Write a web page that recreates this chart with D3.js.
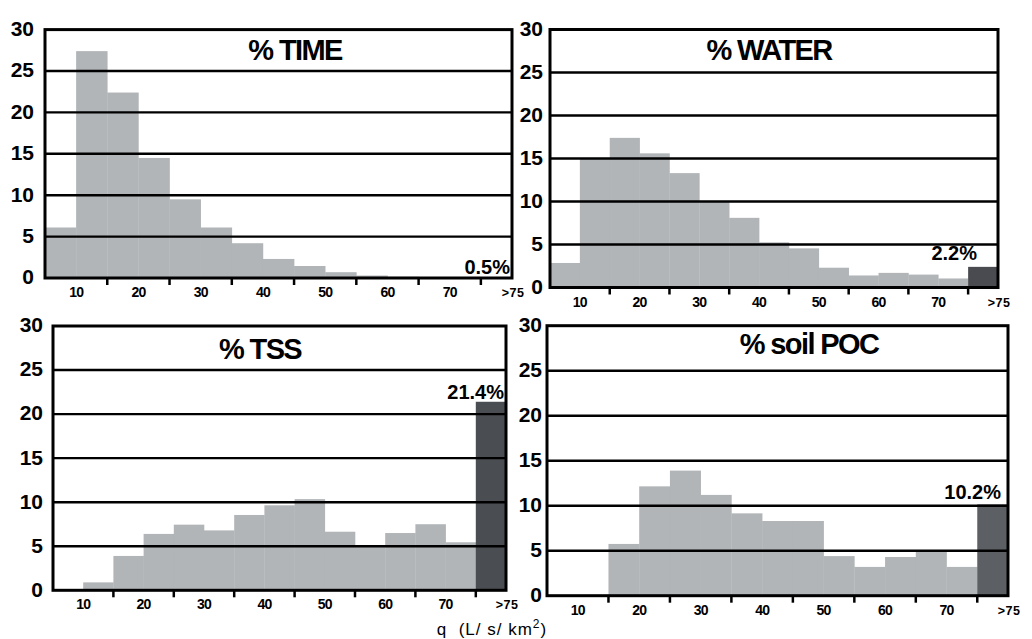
<!DOCTYPE html>
<html>
<head>
<meta charset="utf-8">
<script src="https://cdn.jsdelivr.net/npm/d3@7"></script>
<style>
  body { margin: 0; background: #fff; }
  svg { display: block; }
  text { font-family: "Liberation Sans", Arial, sans-serif; }
</style>
</head>
<body>
<svg id="chart" width="1032" height="639"></svg>
<script>
// ---------- data ----------
const binStarts = [5, 10, 15, 20, 25, 30, 35, 40, 45, 50, 55, 60, 65, 70, 75];
const xTickLabels = ["10", "20", "30", "40", "50", "60", "70", ">75"];
const xTickLabelPos = [10, 20, 30, 40, 50, 60, 70, 80];
const xTickMarks = [15, 25, 35, 45, 55, 65, 75];
const yTicks = [0, 5, 10, 15, 20, 25, 30];

const timeVals  = [6.1, 27.4, 22.4, 14.5, 9.5, 6.1, 4.2, 2.3, 1.45, 0.7, 0.3, 0.15, 0.1, 0.05, 0.0];
const waterVals = [2.85, 15.0, 17.4, 15.6, 13.3, 10.0, 8.1, 5.25, 4.55, 2.3, 1.4, 1.7, 1.5, 1.05, 2.4];
const tssVals   = [0, 0.9, 3.9, 6.4, 7.45, 6.8, 8.55, 9.65, 10.35, 6.65, 5.0, 6.5, 7.5, 5.45, 21.4];
const pocVals   = [0, 0, 5.75, 12.15, 13.9, 11.2, 9.15, 8.3, 8.3, 4.4, 3.2, 4.3, 4.9, 3.2, 10.15];

const titles = ["% TIME", "% WATER", "% TSS", "% soil POC"];
const lastLabels = ["0.5%", "2.2%", "21.4%", "10.2%"];
const xAxisTitleParts = ["q  (L/ s/ km", "2", ")"];

// ---------- layout ----------
const panels = [
  { vals: timeVals,  L: 45,  R: 512,  T: 29.6, B: 278,   yLabX: 34,  titleX: 295, titleY: 60,  lastX: 510,  lastY: 274, dark: "#55585c" },
  { vals: waterVals, L: 550, R: 998,  T: 29.5, B: 287.5, yLabX: 543, titleX: 769, titleY: 60,  lastX: 977,  lastY: 260, dark: "#4a4b50" },
  { vals: tssVals,   L: 53,  R: 506,  T: 326,  B: 590.3, yLabX: 43,  titleX: 260, titleY: 359, lastX: 504,  lastY: 399, dark: "#4a4d52" },
  { vals: pocVals,   L: 547, R: 1008, T: 325.7,B: 595.7, yLabX: 542, titleX: 809, titleY: 354, lastX: 1001, lastY: 499, dark: "#5c6064" }
];

const svg = d3.select("#chart");
const light = "#b1b5b7";

panels.forEach((p, i) => {
  const x = d3.scaleLinear().domain([5, 80]).range([p.L, p.R]);
  const y = d3.scaleLinear().domain([0, 30]).range([p.B, p.T]);
  const g = svg.append("g");

  // bars
  g.selectAll("rect.bar")
    .data(p.vals)
    .enter().append("rect")
    .attr("x", (d, j) => x(binStarts[j]))
    .attr("width", (d, j) => x(binStarts[j] + 5) - x(binStarts[j]) + 0.3)
    .attr("y", d => y(d))
    .attr("height", d => y(0) - y(d))
    .attr("fill", (d, j) => j === binStarts.length - 1 ? p.dark : light);

  // gridlines
  g.selectAll("line.grid")
    .data(yTicks.filter(t => t > 0 && t < 30))
    .enter().append("line")
    .attr("x1", p.L).attr("x2", p.R)
    .attr("y1", d => y(d)).attr("y2", d => y(d))
    .attr("stroke", "#000").attr("stroke-width", 2.4);

  // frame
  g.append("rect")
    .attr("x", p.L).attr("y", y(30))
    .attr("width", p.R - p.L).attr("height", y(0) - y(30))
    .attr("fill", "none").attr("stroke", "#000").attr("stroke-width", 3);

  // y tick labels
  g.selectAll("text.ylab")
    .data(yTicks)
    .enter().append("text")
    .attr("x", p.yLabX)
    .attr("y", d => y(d) - 1)
    .attr("dy", "0.35em")
    .attr("text-anchor", "end")
    .attr("font-size", 21)
    .attr("font-weight", "bold")
    .text(d => d);

  // x tick marks
  g.selectAll("line.xt")
    .data(xTickMarks)
    .enter().append("line")
    .attr("x1", d => x(d)).attr("x2", d => x(d))
    .attr("y1", y(0)).attr("y2", y(0) + 7)
    .attr("stroke", "#000").attr("stroke-width", 2.5);

  // x tick labels
  g.selectAll("text.xlab")
    .data(xTickLabels)
    .enter().append("text")
    .attr("x", (d, j) => x(xTickLabelPos[j]) + (j === xTickLabels.length - 1 ? 1 : 0))
    .attr("y", y(0) + 19)
    .attr("text-anchor", "middle")
    .attr("font-size", (d, j) => j === xTickLabels.length - 1 ? 12.5 : 14)
    .attr("font-weight", "bold")
    .attr("letter-spacing", (d, j) => j === xTickLabels.length - 1 ? 0.5 : -0.8)
    .text(d => d);

  // title
  g.append("text")
    .attr("x", p.titleX).attr("y", p.titleY)
    .attr("text-anchor", "middle")
    .attr("font-size", 29)
    .attr("font-weight", "bold")
    .attr("letter-spacing", -1.6)
    .text(titles[i]);

  // last-bin label
  g.append("text")
    .attr("x", p.lastX).attr("y", p.lastY)
    .attr("text-anchor", "end")
    .attr("font-size", 20)
    .attr("font-weight", "bold")
    .text(lastLabels[i]);
});

// axis title
const at = svg.append("text")
  .attr("x", 492).attr("y", 635)
  .attr("text-anchor", "middle")
  .attr("font-size", 17)
  .attr("letter-spacing", 1)
  .attr("xml:space", "preserve")
  .style("white-space", "pre");
at.append("tspan").text(xAxisTitleParts[0]);
at.append("tspan").attr("dy", -7).attr("font-size", 12).text(xAxisTitleParts[1]);
at.append("tspan").attr("dy", 7).text(xAxisTitleParts[2]);
</script>
</body>
</html>
